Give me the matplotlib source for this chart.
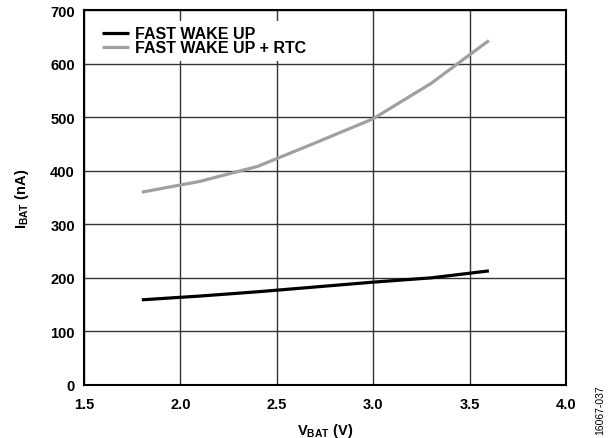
import matplotlib
matplotlib.use("Agg")
import matplotlib.pyplot as plt

plt.rcParams['font.family'] = ['Liberation Sans', 'DejaVu Sans']
plt.rcParams['font.weight'] = 'bold'
plt.rcParams['mathtext.fontset'] = 'custom'
plt.rcParams['mathtext.rm'] = 'Liberation Sans:bold'
plt.rcParams['mathtext.bf'] = 'Liberation Sans:bold'
plt.rcParams['mathtext.it'] = 'Liberation Sans:bold'

vbat = [1.8, 2.1, 2.4, 2.7, 3.0, 3.3, 3.6]
fast_wake = [159, 166, 174, 183, 192, 200, 213]
fast_wake_rtc = [360, 380, 408, 452, 497, 563, 643]
xticks = [1.5, 2.0, 2.5, 3.0, 3.5, 4.0]
yticks = [0, 100, 200, 300, 400, 500, 600, 700]

fig = plt.figure(figsize=(6.1, 4.39), dpi=100)
ax = fig.add_axes([84/610, 1-386/439, (566-84)/610, (386-11)/439])

ax.plot(vbat, fast_wake, color='black', lw=2.3, label='FAST WAKE UP', solid_capstyle='butt')
ax.plot(vbat, fast_wake_rtc, color='#a0a0a0', lw=2.3, label='FAST WAKE UP + RTC', solid_capstyle='butt')

ax.set_xlim(1.5, 4.0)
ax.set_ylim(0, 700)
ax.set_xticks(xticks)
ax.set_yticks(yticks)
ax.set_xticklabels([f'{v:.1f}' for v in xticks], fontsize=10.5, fontweight='bold')
ax.set_yticklabels([str(v) for v in yticks], fontsize=10.5, fontweight='bold')
ax.grid(True, color='#333333', lw=1)
ax.set_axisbelow(True)
ax.tick_params(axis='y', length=0, pad=6.5)
ax.tick_params(axis='x', length=0, pad=9)
for s in ax.spines.values():
    s.set_color('black')
    s.set_linewidth(1.5)

ax.set_xlabel(r'V$_{\mathregular{BAT}}$ (V)', fontsize=10.5, fontweight='bold', labelpad=6.5)
ax.set_ylabel(r'I$_{\mathregular{BAT}}$ (nA)', fontsize=10.5, fontweight='bold', labelpad=14)

leg = ax.legend(loc='upper left', bbox_to_anchor=(0.026, 0.972), frameon=True,
                fontsize=11.5, handlelength=1.7, handletextpad=0.35,
                labelspacing=-0.05, borderaxespad=0.0, borderpad=0.35,
                fancybox=False)
leg.get_frame().set_facecolor('white')
leg.get_frame().set_edgecolor('none')
leg.get_frame().set_alpha(1)
for t in leg.get_texts():
    t.set_fontweight('bold')

fig.text(600/610, 1-410/439, '16067-037', rotation=90, fontsize=7.5,
         fontweight='normal', ha='center', va='center')

fig.savefig('out.png', dpi=100)
